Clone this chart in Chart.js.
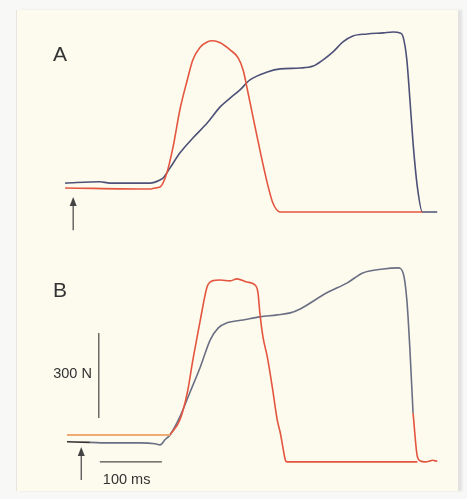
<!DOCTYPE html>
<html>
<head>
<meta charset="utf-8">
<script src="https://cdn.jsdelivr.net/npm/chart.js@4.4.0/dist/chart.umd.min.js"></script>
<style>
    body { margin: 0; background: #f8f8f6; }
    #wrap { position: relative; width: 467px; height: 499px; overflow: hidden; }
    #frame { position: absolute; left: 16px; top: 10px; width: 441px; height: 481px;
             background: #fdfbee; border-left: 1px solid #e6e6e0; box-shadow: 4px 0 2px #e2e2e2; }
    canvas { position: absolute; left: 0; }
</style>
</head>
<body>
<div id="wrap">
    <div id="frame"></div>
    <canvas id="chartA" width="467" height="250" style="top:0"></canvas>
    <canvas id="chartB" width="467" height="249" style="top:250px"></canvas>
</div>
<script>
// tempi in ms, forza in N
// pannello A
const tBlueA = [-3, 53, 69, 134, 150, 155, 166, 182, 203, 226, 247, 263, 279, 295, 323, 344, 376, 397, 413, 429, 445, 461, 484, 510, 526, 537, 542, 548, 553, 558, 565, 573, 597];
const fBlueA = [102, 107, 102, 102, 113, 120, 155, 208, 261, 314, 371, 402, 431, 466, 494, 505, 508, 515, 537, 565, 600, 621, 628, 632, 635, 632, 618, 537, 395, 244, 88, 0, 0];
const tRedA = [-3, 134, 142, 150, 161, 171, 182, 194, 203, 215, 226, 235, 247, 263, 276, 284, 292, 300, 311, 323, 332, 344, 573];
const fRedA = [85, 81, 85, 88, 138, 229, 360, 466, 537, 582, 600, 604, 597, 572, 544, 501, 420, 335, 219, 102, 32, 0, 0];

// pannello B
const tBlueB = [0, 37, 69, 118, 142, 150, 158, 166, 182, 198, 215, 231, 244, 258, 284, 311, 339, 360, 376, 419, 452, 477, 510, 534, 542, 548, 553, 558];
const fBlueB = [71, 69, 67, 67, 64, 60, 78, 95, 159, 244, 335, 431, 473, 491, 501, 512, 519, 526, 540, 597, 632, 667, 681, 685, 667, 572, 395, 173];
const tTailB = [558, 565, 570, 577, 584, 589, 597];
const fTailB = [173, 18, 3, 0, 2, 6, 2];
const tOrangeB = [0, 166];
const fOrangeB = [95, 95];
const tRedB = [166, 182, 194, 203, 215, 226, 234, 247, 263, 274, 290, 303, 308, 311, 316, 323, 331, 339, 344, 348, 352, 355, 565];
const fRedB = [95, 148, 244, 360, 501, 618, 639, 642, 639, 646, 635, 625, 597, 526, 441, 371, 265, 148, 102, 53, 7, 0, 0];

// barre di scala e freccia
const scaleForce = [155, 455];   // 300 N
const scaleTime = [53, 153];     // 100 ms
const arrowTime = { A: 10, B: 23 };
const arrowForce = [-64, 53];

const RED = '#e4553f';
const BLUE_A = '#4d5178';
const BLUE_B = '#6b6f84';
const ORANGE = '#f0aa74';

function pts(t, f) {
    return t.map((x, i) => ({ x: x, y: f[i] }));
}

function line(data, color, extra) {
    return Object.assign({
        data: data,
        borderColor: color,
        borderWidth: 1.6,
        pointRadius: 0,
        cubicInterpolationMode: 'monotone',
        fill: false
    }, extra || {});
}

// disegna lettera del pannello, freccia e barre di scala
function decorPlugin(letter, withScale) {
    return {
        id: 'decor' + letter,
        afterDatasetsDraw(chart) {
            const ctx = chart.ctx;
            const xs = chart.scales.x, ys = chart.scales.y;
            ctx.save();
            ctx.fillStyle = '#333';
            ctx.font = '21px "Liberation Sans", Arial, sans-serif';
            ctx.textBaseline = 'alphabetic';
            ctx.fillText(letter, 53, letter === 'A' ? 61 : 47);

            // freccia
            const ax = xs.getPixelForValue(arrowTime[letter]);
            const y0 = ys.getPixelForValue(arrowForce[0]);
            const y1 = ys.getPixelForValue(arrowForce[1]);
            ctx.strokeStyle = '#444';
            ctx.lineWidth = 1.2;
            ctx.beginPath();
            ctx.moveTo(ax, y0);
            ctx.lineTo(ax, y1 + 6);
            ctx.stroke();
            ctx.fillStyle = '#444';
            ctx.beginPath();
            ctx.moveTo(ax, y1);
            ctx.lineTo(ax - 3.5, y1 + 9);
            ctx.lineTo(ax + 3.5, y1 + 9);
            ctx.closePath();
            ctx.fill();

            if (withScale) {
                ctx.strokeStyle = '#222';
                ctx.lineWidth = 1;
                const sx = xs.getPixelForValue(scaleTime[0]);
                ctx.beginPath();
                ctx.moveTo(sx - 1, ys.getPixelForValue(scaleForce[0]));
                ctx.lineTo(sx - 1, ys.getPixelForValue(scaleForce[1]));
                ctx.stroke();
                const hy = ys.getPixelForValue(0);
                ctx.beginPath();
                ctx.moveTo(sx, hy);
                ctx.lineTo(xs.getPixelForValue(scaleTime[1]), hy);
                ctx.stroke();

                ctx.fillStyle = '#333';
                ctx.font = '14.5px "Liberation Sans", Arial, sans-serif';
                ctx.textBaseline = 'middle';
                ctx.textAlign = 'right';
                ctx.fillText('300 N', sx - 8, ys.getPixelForValue((scaleForce[0] + scaleForce[1]) / 2) - 1);
                ctx.textAlign = 'left';
                ctx.fillText('100 ms', sx + 3, hy + 18);
            }
            ctx.restore();
        }
    };
}

function makeChart(id, datasets, yMin, letter, withScale) {
    const ctx = document.getElementById(id).getContext('2d');
    return new Chart(ctx, {
        type: 'line',
        data: { datasets: datasets },
        options: {
            responsive: false,
            animation: false,
            layout: { padding: 0 },
            scales: {
                x: { type: 'linear', min: -108, max: 645, display: false },
                y: { min: yMin, max: 748, display: false }
            },
            plugins: {
                legend: { display: false },
                tooltip: { enabled: false }
            }
        },
        plugins: [decorPlugin(letter, withScale)]
    });
}

makeChart('chartA', [
    line(pts(tRedA, fRedA), RED),
    line(pts(tBlueA, fBlueA), BLUE_A)
], -134, 'A', false);

makeChart('chartB', [
    line(pts(tOrangeB, fOrangeB), ORANGE, { borderWidth: 2 }),
    line(pts(tRedB, fRedB), RED),
    line(pts(tBlueB, fBlueB), BLUE_B, {
        segment: { borderColor: c => c.p0.parsed.x < 37 ? '#333' : undefined }
    }),
    line(pts(tTailB, fTailB), RED)
], -131, 'B', true);
</script>
</body>
</html>
